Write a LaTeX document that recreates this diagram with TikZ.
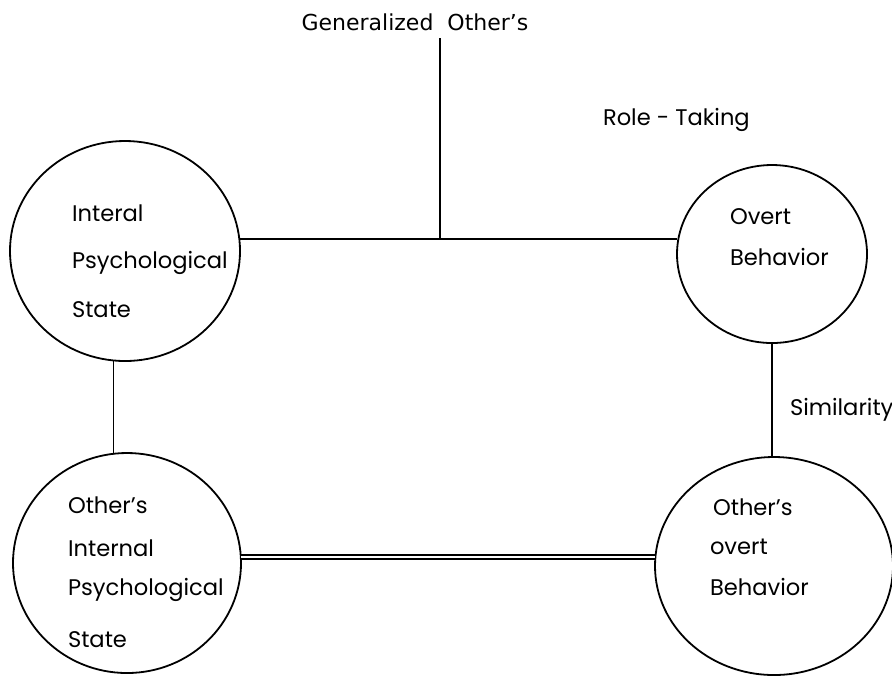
\documentclass[tikz,border=0pt]{standalone}
\usepackage{fontspec}
\setmainfont{Poppins}
\newfontfamily\genfont{DejaVu Sans}
\usetikzlibrary{positioning,shapes.geometric}

\begin{document}
\begin{tikzpicture}[x=0.5pt,y=-0.5pt]
		\tikzstyle{every node}+=[inner sep=0pt, outer sep=0pt]
		\tikzstyle{bubble}=[ellipse, draw=black, line width=0.9pt]
		\tikzstyle{word}=[anchor=west, font=\fontsize{11.3}{13}\selectfont]
		\tikzstyle{link}=[black, line width=0.9pt]
		\useasboundingbox (0,0) rectangle (892,677);
		\node [bubble, minimum width=115pt, minimum height=110pt] (inner) at (125,251) {};
		\node [word] (inner1) at (72,213) {Interal};
		\node [word] (inner2) at (72,263) {Psychological};
		\node [word] (inner3) at (72,310) {State};
		\node [bubble, minimum width=95pt, minimum height=89pt] (overt) at (772,254) {};
		\node [word] (overt1) at (730,217) {Overt};
		\node [word] (overt2) at (730,257) {Behavior};
		\node [bubble, minimum width=114pt, minimum height=110pt] (oinner) at (127,563) {};
		\node [word] (oinner1) at (68,505) {Other's};
		\node [word] (oinner2) at (68,548) {Internal};
		\node [word] (oinner3) at (68,590) {Psychological};
		\node [word] (oinner4) at (68,640) {State};
		\node [bubble, minimum width=119pt, minimum height=109pt] (oovert) at (774,566) {};
		\node [word] (oovert1) at (713,507) {Other's};
		\node [word] (oovert2) at (710,547) {overt};
		\node [word] (oovert3) at (710,587) {Behavior};
		\node [font=\genfont\fontsize{11}{13}\selectfont] (general) at (415,22) {Generalized\ \ Other’s};
		\node [word] (role) at (603,120) {Role - Taking};
		\node [word] (similar) at (790,410) {Similarity};
		\coordinate (gtop) at (440,38);
		\draw [link] (inner.6) -- (inner.6 -| overt.west);
		\draw [link] (gtop) -- (gtop |- inner.6);
		\draw [link] (inner.264) -- (inner.264 |- oinner.north);
		\draw [link] (overt.south) -- (overt.south |- oovert.north);
		\draw [link, line width=1pt, double, double distance=0.8pt] (oinner.3) -- (oinner.3 -| oovert.west);
		\end{tikzpicture}
\end{document}
